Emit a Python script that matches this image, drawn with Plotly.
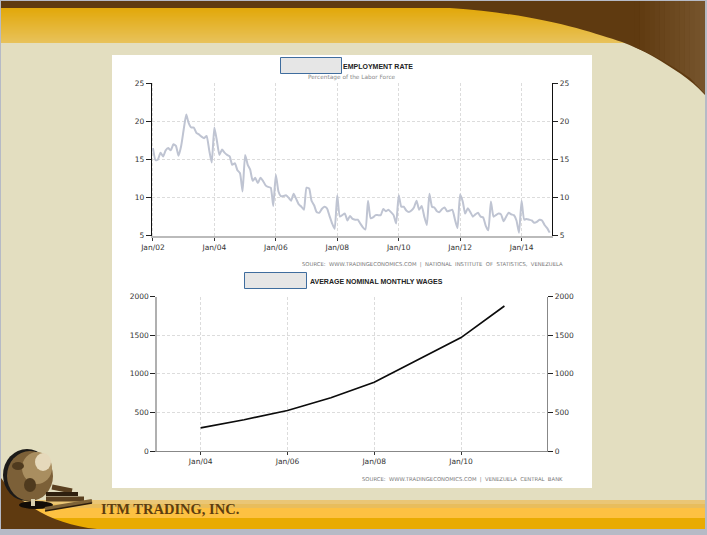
import numpy as np
import pandas as pd
import plotly.graph_objects as go

W, H = 707, 535

# unemployment rate, monthly from Jan 2002
unemployment = [
    16.5, 14.9, 15.0, 15.9, 15.4, 16.2, 16.5, 16.2, 17.0, 16.8, 15.5, 16.7,
    18.9, 20.9, 19.8, 19.2, 19.2, 18.5, 18.3, 18.0, 17.8, 18.1, 16.2, 14.6,
    19.2, 17.4, 15.6, 16.3, 15.9, 15.6, 15.4, 14.3, 14.5, 13.6, 13.2, 10.8,
    15.6, 14.3, 13.7, 12.2, 12.6, 11.9, 12.6, 12.2, 11.6, 11.4, 11.3, 8.9,
    13.0, 10.8, 10.2, 10.2, 10.3, 10.0, 9.6, 10.5, 9.8, 9.1, 8.8, 8.4,
    11.3, 11.2, 9.6, 9.0, 8.1, 8.0, 8.5, 8.8, 8.6, 7.6, 6.6, 5.9,
    10.3, 7.5, 7.7, 7.9, 7.0, 7.6, 7.2, 7.1, 7.1, 6.6, 6.1, 5.8,
    9.6, 7.3, 7.4, 7.7, 7.7, 7.7, 8.5, 8.2, 8.4, 8.1, 7.7, 6.6,
    10.3, 8.8, 8.8, 8.3, 8.1, 8.3, 8.7, 9.6, 8.4, 8.9, 7.5, 6.4,
    10.5, 8.8, 8.7, 8.2, 8.1, 8.5, 8.7, 8.2, 8.3, 8.4, 7.1, 6.0,
    10.4, 9.5, 7.9, 8.6, 8.1, 7.5, 7.8, 8.0, 7.5, 7.4, 6.3, 5.7,
    9.5, 7.5, 7.7, 7.9, 7.8, 6.9, 7.5, 8.0, 7.8, 7.7, 7.0, 5.4,
    9.6, 7.1, 7.2, 7.1, 7.0, 6.7, 6.8, 7.1, 7.0, 6.4, 6.0, 5.4,
]
unemployment_dates = pd.date_range("2002-01-01", periods=len(unemployment), freq="MS")

wage_years = ["2004-01-01", "2005-01-01", "2006-01-01", "2007-01-01",
              "2008-01-01", "2009-01-01", "2010-01-01", "2011-01-01"]
wages = [300, 405, 525, 690, 890, 1185, 1470, 1880]

rate_ticks = [5, 10, 15, 20, 25]
wage_ticks = [0, 500, 1000, 1500, 2000]

FONT = "DejaVu Sans"
TITLE_FONT = "Liberation Sans"
BEIGE = "#e3dec0"
BROWN = "#5f3a10"


def px(x):
    return x / W


def py(y):
    return 1 - y / H


def box(x0, y0, x1, y1, fill, line=None, layer="below"):
    return dict(
        type="rect", xref="paper", yref="paper", layer=layer,
        x0=px(x0), x1=px(x1), y0=py(y0), y1=py(y1),
        fillcolor=fill, line=dict(width=1 if line else 0, color=line or fill),
    )


def pt(x, y):
    return f"{px(x):.5f},{py(y):.5f}"


def path(commands, fill):
    # each command is one M/L/C with pixel pairs, converted to paper coords
    parts = [cmd + " " + " ".join(pt(*p) for p in pts) for cmd, pts in commands]
    return dict(type="path", xref="paper", yref="paper", layer="below",
                path=" ".join(parts) + " Z", fillcolor=fill, line=dict(width=0))


def circle(cx, cy, rx, ry, fill):
    return dict(type="circle", xref="paper", yref="paper", layer="below",
                x0=px(cx - rx), x1=px(cx + rx), y0=py(cy + ry), y1=py(cy - ry),
                fillcolor=fill, line=dict(width=0))


def stick(x0, y0, x1, y1, color, width):
    return dict(type="line", xref="paper", yref="paper", layer="below",
                x0=px(x0), x1=px(x1), y0=py(y0), y1=py(y1),
                line=dict(color=color, width=width))


def lerp(a, b, t):
    return tuple(round(a[i] + (b[i] - a[i]) * t) for i in range(3))


shapes = []

# page frame
shapes.append(box(0, 0, W, H, "#b6bac6"))
shapes.append(box(1, 1, 705, 529, BEIGE))

# header gradient, then the brown swoosh on top of it
for y in range(8, 43):
    r, g, b = lerp((226, 168, 10), (232, 194, 90), (y - 8) / 34)
    shapes.append(box(1, y, 705, y + 1, f"rgb({r},{g},{b})"))
shapes.append(path([
    ("M", [(1, 1)]), ("L", [(705, 1)]), ("L", [(705, 95)]),
    ("C", [(690, 78), (672, 68), (654, 57)]),
    ("C", [(642, 50), (632, 46), (622, 42)]),
    ("C", [(590, 32), (540, 14), (450, 8)]),
    ("L", [(1, 8)]),
], BROWN))
# the swoosh lightens towards the right edge
for x in range(635, 705, 5):
    low0, low1 = np.interp([x, x + 5], [622, 654, 672, 690, 705], [42, 57, 67, 79, 95])
    r, g, b = lerp((95, 58, 16), (118, 84, 44), (x - 635) / 65)
    shapes.append(path([
        ("M", [(x, 1)]), ("L", [(x + 5, 1)]), ("L", [(x + 5, low1 - 1)]), ("L", [(x, low0 - 1)]),
    ], f"rgb({r},{g},{b})"))

# footer bands
shapes.append(box(1, 500, 705, 504, "#eac675"))
shapes.append(box(1, 504, 705, 508, "#e8bd5c"))
shapes.append(box(1, 508, 705, 518, "#fdc142"))
shapes.append(box(1, 518, 705, 529, "#e9ab02"))

# hill and globe
shapes.append(path([
    ("M", [(1, 478)]),
    ("C", [(20, 505), (55, 525), (97, 529)]),
    ("L", [(1, 529)]),
], BROWN))
shapes.append(circle(27, 475, 24, 26, "#1c1a18"))
shapes.append(circle(30, 476, 23, 25, "#7c6038"))
shapes.append(circle(37, 468, 15, 16, "#a98e60"))
shapes.append(circle(43, 462, 8, 9, "#e6d9bb"))
shapes.append(circle(30, 485, 6, 7, "#4f3a1e"))
shapes.append(circle(18, 466, 6, 4, "#4f3a1e"))
shapes.append(circle(36, 505, 17, 4, "#120d08"))
shapes.append(stick(33, 499, 33, 506, "#d9cfae", 4))
# books
shapes.append(stick(52, 487, 72, 491, "#5a4020", 5))
shapes.append(stick(46, 494, 78, 494, "#2e1f0e", 4))
shapes.append(stick(46, 499, 84, 499, "#5a4020", 5))
shapes.append(stick(45, 509, 92, 501, "#7d6237", 4))
shapes.append(stick(45, 511, 92, 503, "#2c1d0c", 1.5))

# white panel and the two covered title boxes
shapes.append(box(112, 55, 592, 488, "#ffffff"))
shapes.append(box(280.5, 57.5, 341.5, 73.5, "#e6e6e6", "#3f6d9e", layer="above"))
shapes.append(box(244.5, 272.5, 306.5, 288.5, "#e6e6e6", "#3f6d9e", layer="above"))

fig = go.Figure()
fig.add_trace(go.Scatter(
    x=unemployment_dates, y=unemployment, mode="lines",
    line=dict(color="#bfc4d2", width=2, shape="spline", smoothing=0.5),
    xaxis="x", yaxis="y", showlegend=False,
))
fig.add_trace(go.Scatter(
    x=unemployment_dates, y=unemployment, mode="lines", opacity=0,
    xaxis="x", yaxis="y2", showlegend=False, hoverinfo="skip",
))
fig.add_trace(go.Scatter(
    x=wage_years, y=wages, mode="lines",
    line=dict(color="#0c0c0c", width=1.7),
    xaxis="x2", yaxis="y3", showlegend=False,
))
fig.add_trace(go.Scatter(
    x=wage_years, y=wages, mode="lines", opacity=0,
    xaxis="x2", yaxis="y4", showlegend=False, hoverinfo="skip",
))


def note(x, y, text, size, color, anchor="left", family=FONT):
    return dict(x=px(x), y=py(y), xref="paper", yref="paper", text=text, showarrow=False,
                xanchor=anchor, yanchor="middle", align=anchor,
                font=dict(family=family, size=size, color=color))


annotations = [
    note(341, 67, "<b>EMPLOYMENT RATE</b>", 7, "#222222", family=TITLE_FONT),
    note(351.5, 78, "Percentage of the Labor Force", 5.8, "#8a8a8a", "center"),
    note(565, 265, "SOURCE:  WWW.TRADINGECONOMICS.COM  |  NATIONAL  INSTITUTE  OF  STATISTICS,  VENEZUELA",
         5.3, "#777777", "right"),
    note(308, 281, "<b>AVERAGE NOMINAL MONTHLY WAGES</b>", 7, "#222222", family=TITLE_FONT),
    note(565, 479, "SOURCE:  WWW.TRADINGECONOMICS.COM  |  VENEZUELA  CENTRAL  BANK", 5.3, "#777777", "right"),
    note(99, 509, "<b>ITM TRADING, INC.</b>", 14.5, "#5c3d10", family="Liberation Serif"),
]

tick_font = dict(family=FONT, size=7.5, color="#333333")
grid = dict(showgrid=True, gridcolor="#dcdcdc", griddash="3px,2px", gridwidth=1, zeroline=False)


def date_axis(domain, anchor, tick0, rng, line_color, line_width):
    return dict(
        domain=domain, anchor=anchor, type="date", range=rng, automargin=False,
        tick0=tick0, dtick="M24", tickformat="%b/%y",
        showline=True, linecolor=line_color, linewidth=line_width,
        ticks="outside", ticklen=3, tickcolor="#333333", tickfont=tick_font, **grid,
    )


def value_axis(domain, anchor, rng, ticks, line_color, line_width, **extra):
    return dict(
        domain=domain, anchor=anchor, range=rng, tickmode="array", tickvals=ticks, automargin=False,
        showline=True, linecolor=line_color, linewidth=line_width,
        ticks="outside", ticklen=5, tickcolor="#222222", tickfont=tick_font, **extra,
    )


top_x = [px(151.7), px(552.3)]
top_y = [py(235.7), py(83.3)]
low_x = [px(157.3), px(547.3)]
low_y = [py(451), py(296.7)]

fig.update_layout(
    width=W, height=H,
    margin=dict(l=0, r=0, t=0, b=0),
    paper_bgcolor=BEIGE,
    plot_bgcolor="rgba(0,0,0,0)",
    showlegend=False,
    shapes=shapes,
    annotations=annotations,
    xaxis=date_axis(top_x, "y", "2002-01-01", ["2001-12-17", "2015-01-01"], "#bbbbbb", 2),
    yaxis=value_axis(top_y, "x", [5, 25], rate_ticks, "#111111", 1, **grid),
    yaxis2=value_axis(top_y, "x", [5, 25], rate_ticks, "#111111", 1,
                      overlaying="y", side="right", showgrid=False, zeroline=False),
    xaxis2=date_axis(low_x, "y3", "2004-01-01", ["2003-01-01", "2011-12-28"], "#888888", 1),
    yaxis3=value_axis(low_y, "x2", [0, 2000], wage_ticks, "#b0b0b0", 2, **grid),
    yaxis4=value_axis(low_y, "x2", [0, 2000], wage_ticks, "#888888", 1,
                      overlaying="y3", side="right", showgrid=False, zeroline=False),
)

# pin the chart to the window corner, the default page has a body margin
PIN = """
var gd = document.querySelector('.plotly-graph-div');
document.documentElement.style.cssText += ';margin:0;padding:0;overflow:hidden;';
document.body.style.cssText += ';margin:0;padding:0;overflow:hidden;';
gd.style.cssText += ';position:fixed;left:0;top:0;width:707px;height:535px;margin:0;';
"""
fig.write_html("out.html", config={"displayModeBar": False}, post_script=PIN)
